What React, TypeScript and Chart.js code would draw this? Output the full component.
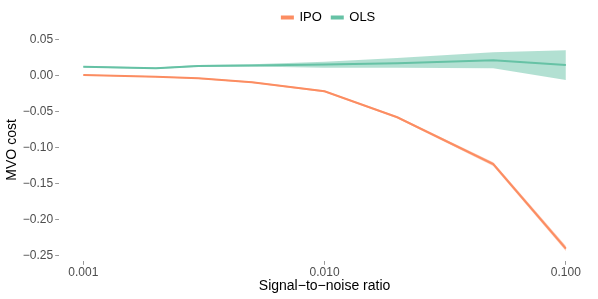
import React, { useEffect, useRef } from "react";
import { Chart, registerables } from "chart.js";

Chart.register(...registerables);

const snr = [0.001, 0.002, 0.003, 0.005, 0.01, 0.02, 0.05, 0.1];
const ipoMean = [0.0005, -0.002, -0.004, -0.0095, -0.022, -0.058, -0.123, -0.24];
const ipoLow = [-0.0002, -0.0027, -0.0048, -0.0105, -0.0232, -0.0595, -0.1255, -0.2435];
const ipoHigh = [0.0012, -0.0013, -0.0032, -0.0085, -0.0208, -0.0565, -0.1205, -0.2365];
const olsMean = [0.012, 0.0098, 0.013, 0.0138, 0.015, 0.017, 0.021, 0.0145];
const olsLow = [0.011, 0.009, 0.012, 0.0125, 0.0105, 0.0105, 0.01, -0.0065];
const olsHigh = [0.013, 0.011, 0.0145, 0.0155, 0.019, 0.024, 0.032, 0.035];
const xTicks = [0.001, 0.01, 0.1];
const xTickLabels = ["0.001", "0.010", "0.100"];
const yTicks = [-0.25, -0.2, -0.15, -0.1, -0.05, 0, 0.05];
const yTickLabels = ["\u22120.25", "\u22120.20", "\u22120.15", "\u22120.10", "\u22120.05", "0.00", "0.05"];

const ORANGE = "#FC8D62";
const TEAL = "#66C2A5";

const pts = (ys: number[]) => snr.map((x, i) => ({ x, y: ys[i] }));

const legendShift = {
  id: "legendShift",
  afterInit(chart: any) {
    const lg = chart.legend;
    if (lg && !lg.__patched) {
      const orig = lg.fit;
      lg.fit = function () {
        orig.call(this);
        this.height += 5;
      };
      lg.__patched = true;
    }
  },
  afterLayout(chart: any) {
    const lg = chart.legend;
    const ca = chart.chartArea;
    if (!lg || !ca) return;
    const target = (ca.left + ca.right) / 2 + 4;
    const dx = target - (lg.left + lg.right) / 2;
    lg.left += dx;
    lg.right += dx;
  },
};

export default function App() {
  const ref = useRef<HTMLCanvasElement | null>(null);
  useEffect(() => {
    document.body.style.margin = "0";
    const ctx = ref.current!;
    const font = "'Liberation Sans', Arial, sans-serif";
    const chart = new Chart(ctx, {
      type: "line",
      data: {
        datasets: [
          { label: "_ipoHigh", data: pts(ipoHigh), borderWidth: 0, pointRadius: 0, fill: false, borderColor: "transparent" },
          { label: "_ipoLow", data: pts(ipoLow), borderWidth: 0, pointRadius: 0, fill: "-1", backgroundColor: "rgba(252,141,98,0.5)", borderColor: "transparent" },
          { label: "_olsHigh", data: pts(olsHigh), borderWidth: 0, pointRadius: 0, fill: false, borderColor: "transparent" },
          { label: "_olsLow", data: pts(olsLow), borderWidth: 0, pointRadius: 0, fill: "-1", backgroundColor: "rgba(102,194,165,0.5)", borderColor: "transparent" },
          { label: "IPO", data: pts(ipoMean), borderColor: ORANGE, backgroundColor: ORANGE, borderWidth: 2, pointRadius: 0, fill: false },
          { label: "OLS", data: pts(olsMean), borderColor: TEAL, backgroundColor: TEAL, borderWidth: 2, pointRadius: 0, fill: false },
        ],
      },
      plugins: [legendShift],
      options: {
        animation: false,
        responsive: false,
        maintainAspectRatio: false,
        layout: { padding: { left: 0, right: 8, top: 1, bottom: 4 } },
        plugins: {
          tooltip: { enabled: false },
          legend: {
            position: "top",
            align: "center",
            labels: {
              filter: (item: any) => !item.text.startsWith("_"),
              boxWidth: 11,
              boxHeight: 2,
              color: "#000",
              font: { family: font, size: 13 },
              padding: 10,
            },
          },
        },
        scales: {
          x: {
            type: "logarithmic",
            min: Math.pow(10, -3.1),
            max: Math.pow(10, -0.9),
            afterBuildTicks: (axis: any) => {
              axis.ticks = xTicks.map((v) => ({ value: v }));
            },
            ticks: {
              autoSkip: false,
              maxRotation: 0,
              color: "#4D4D4D",
              font: { family: font, size: 12 },
              padding: 1,
              callback: (v: any) => {
                const i = xTicks.findIndex((t) => Math.abs(t - Number(v)) < 1e-9);
                return i >= 0 ? xTickLabels[i] : "";
              },
            },
            grid: { drawOnChartArea: false, drawTicks: true, tickLength: 4, color: "#999" },
            border: { display: false },
            title: { display: true, text: "Signal\u2212to\u2212noise ratio", color: "#000", font: { family: font, size: 14 }, padding: { top: -3, bottom: 0 } },
          },
          y: {
            type: "linear",
            min: -0.257,
            max: 0.0505,
            afterBuildTicks: (axis: any) => {
              axis.ticks = yTicks.map((v) => ({ value: v }));
            },
            ticks: {
              color: "#4D4D4D",
              font: { family: font, size: 12 },
              padding: 2,
              callback: (v: any) => {
                const i = yTicks.findIndex((t) => Math.abs(t - Number(v)) < 1e-9);
                return i >= 0 ? yTickLabels[i] : "";
              },
            },
            grid: { drawOnChartArea: false, drawTicks: true, tickLength: 4, color: "#999" },
            border: { display: false },
            title: { display: true, text: "MVO cost", color: "#000", font: { family: font, size: 14 }, padding: { top: 4, bottom: 0 } },
          },
        },
      },
    } as any);
    return () => chart.destroy();
  }, []);
  return (
    <div style={{ width: 598, height: 299 }}>
      <canvas ref={ref} width={598} height={299} style={{ width: 598, height: 299, display: "block" }} />
    </div>
  );
}
